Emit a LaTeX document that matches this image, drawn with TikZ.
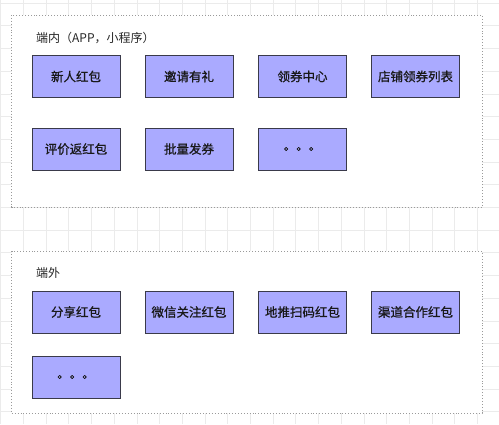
\documentclass[tikz,border=0pt]{standalone}
\usepackage{fontspec}
\setmainfont{Noto Sans CJK SC}
\newfontfamily\cardfont{Noto Sans CJK SC}[FakeBold=0.7]
\usepackage{tikz}
\definecolor{cardfill}{HTML}{AAAAFF}
\definecolor{cardline}{HTML}{3A3A4A}
\definecolor{gridgray}{HTML}{EBEBEB}
\definecolor{framegray}{HTML}{9A9A9A}
\tikzset{
    card/.style={draw=cardline, fill=cardfill, line width=0.9pt, minimum width=88pt, minimum height=42pt, inner sep=0pt, text=black!90, font=\cardfont\fontsize{12.5}{14}\selectfont},
    grouptitle/.style={anchor=west, inner sep=0pt, text=black!85, font=\fontsize{12}{14}\selectfont},
    groupframe/.style={draw=framegray, fill=white, line width=0.8pt, dash pattern=on 0.9pt off 2pt}
}

\begin{document}
\begin{tikzpicture}[x=1pt, y=-1pt]
    \useasboundingbox (0,0) rectangle (499,424);

    \foreach \k in {0,...,21}
        \draw [gridgray, line width=0.6pt] (0.6+22.7*\k,0) -- (0.6+22.7*\k,424);
    \foreach \k in {0,...,18}
        \draw [gridgray, line width=0.6pt] (0,3+22.7*\k) -- (499,3+22.7*\k);

    \draw [groupframe] (11.5,15) rectangle (482,207);
    \draw [groupframe] (11.5,251) rectangle (482,413);

    \node [grouptitle] (inTitle) at (36,38) {端内（APP，小程序）};
    \node [card] (newUser) at (76,76.5) {新人红包};
    \node [card] (invite) at (189,76.5) {邀请有礼};
    \node [card] (couponCenter) at (302.5,76.5) {领券中心};
    \node [card] (shopCoupon) at (415.5,76.5) {店铺领券列表};
    \node [card] (review) at (76,149) {评价返红包};
    \node [card] (batch) at (189,149) {批量发券};
    \node [card] (inMore) at (302.5,149) {。。。};

    \node [grouptitle] (outTitle) at (36,273) {端外};
    \node [card] (share) at (76,312) {分享红包};
    \node [card] (wechat) at (189,312) {微信关注红包};
    \node [card] (scan) at (302.5,312) {地推扫码红包};
    \node [card] (channel) at (415.5,312) {渠道合作红包};
    \node [card] (outMore) at (76,377) {。。。};
\end{tikzpicture}
\end{document}
